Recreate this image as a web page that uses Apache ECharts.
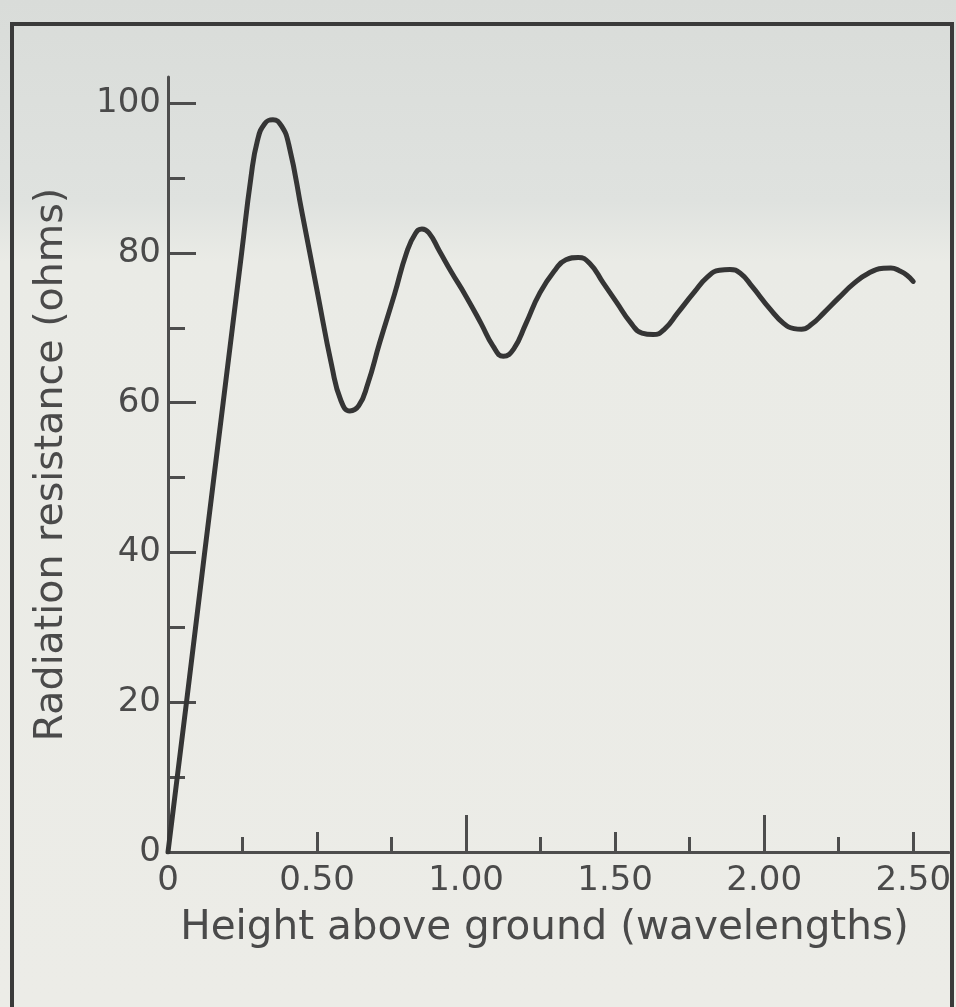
<!DOCTYPE html>
<html>
<head>
<meta charset="utf-8">
<script src="https://cdn.jsdelivr.net/npm/echarts@6/dist/echarts.min.js"></script>
<style>html,body{margin:0;padding:0;background:#e6e8e4;}#c{width:956px;height:1007px;}</style>
</head>
<body>
<div id="c"></div>
<script>
// Height above ground (wavelengths)
const heights = [0, 0.062, 0.123, 0.185, 0.247, 0.278, 0.30, 0.325, 0.352, 0.38, 0.405,
  0.45, 0.50, 0.55, 0.58, 0.61, 0.64, 0.67, 0.71, 0.76, 0.80, 0.83, 0.852, 0.875, 0.91,
  0.95, 1.00, 1.05, 1.09, 1.125, 1.16, 1.20, 1.248, 1.30, 1.335, 1.376, 1.415, 1.46, 1.505,
  1.55, 1.59, 1.628, 1.665, 1.71, 1.764, 1.81, 1.85, 1.885, 1.92, 1.96, 2.02, 2.065, 2.10,
  2.125, 2.16, 2.20, 2.25, 2.30, 2.35, 2.40, 2.425, 2.455, 2.48, 2.50];
// Radiation resistance (ohms)
const resistance = [0, 20, 40, 60, 80, 90, 95, 97.3, 97.8, 97, 94.5,
  85.3, 75, 64.8, 60.3, 58.9, 59.6, 62.5, 68, 74.5, 80, 82.6, 83.2, 82.7, 80.3,
  77.5, 74.2, 70.6, 67.6, 66.2, 67.2, 70.5, 74.7, 77.8, 79.1, 79.4, 78.6, 76, 73.4,
  70.8, 69.3, 69.1, 69.8, 72, 74.7, 76.8, 77.7, 77.8, 77.3, 75.5, 72.5, 70.6, 69.9,
  69.8, 70.5, 72.0, 74.0, 75.9, 77.3, 77.95, 78.0, 77.6, 77, 76.2];
const xLabelValues = [0, 0.5, 1, 1.5, 2, 2.5];
const xMinorTicks = [0.25, 0.75, 1.25, 1.75, 2.25];
const xHalfTicks = [0.5, 1.5, 2.5];
const xWholeTicks = [1, 2];
const yLabelValues = [0, 20, 40, 60, 80, 100];
const yMajorTicks = [20, 40, 60, 80, 100];
const yMinorTicks = [10, 30, 50, 70, 90];

const FONT = 'DejaVu Sans';
const TXT = '#4a4a4a';
const AX = '#4d4d4d';

const chart = echarts.init(document.getElementById('c'));
const baseX = {type: 'value', min: 0, max: 2.62, position: 'bottom', splitLine: {show: false}};
const baseY = {type: 'value', min: 0, max: 103.5, position: 'left', splitLine: {show: false}};
chart.setOption({
  animation: false,
  backgroundColor: {type: 'linear', x: 0, y: 0, x2: 0, y2: 1, colorStops: [
    {offset: 0, color: '#d9dcd9'}, {offset: 0.2, color: '#dfe2df'},
    {offset: 0.26, color: '#eaebe6'}, {offset: 1, color: '#ecece7'}]},
  graphic: [{type: 'rect', shape: {x: 12, y: 24, width: 940, height: 1000},
    style: {fill: 'none', stroke: '#3a3a3a', lineWidth: 4}, z: 0}],
  grid: {left: 168, right: 7, top: 77, bottom: 155},
  xAxis: [
    Object.assign({}, baseX, {
      name: 'Height above ground (wavelengths)', nameLocation: 'middle', nameGap: 56,
      nameTextStyle: {fontFamily: FONT, fontSize: 40.5, color: TXT, padding: [0, 28, 0, 0]},
      axisLine: {show: true, lineStyle: {color: AX, width: 3}},
      axisTick: {show: true, inside: true, length: 15, customValues: xMinorTicks, lineStyle: {color: AX, width: 3}},
      axisLabel: {show: true, customValues: xLabelValues, margin: 12, fontFamily: FONT, fontSize: 34, color: TXT,
        formatter: v => v === 0 ? '0' : v.toFixed(2)}
    }),
    Object.assign({}, baseX, {
      axisLine: {show: false},
      axisTick: {show: true, inside: true, length: 20, customValues: xHalfTicks, lineStyle: {color: AX, width: 3}},
      axisLabel: {show: false}
    }),
    Object.assign({}, baseX, {
      axisLine: {show: false},
      axisTick: {show: true, inside: true, length: 37, customValues: xWholeTicks, lineStyle: {color: AX, width: 3}},
      axisLabel: {show: false}
    })
  ],
  yAxis: [
    Object.assign({}, baseY, {
      name: 'Radiation resistance (ohms)', nameLocation: 'middle', nameGap: 96,
      nameTextStyle: {fontFamily: FONT, fontSize: 39.5, color: TXT},
      axisLine: {show: true, lineStyle: {color: AX, width: 3}},
      axisTick: {show: true, inside: true, length: 28, customValues: yMajorTicks, lineStyle: {color: AX, width: 3}},
      axisLabel: {show: true, customValues: yLabelValues, margin: 7, fontFamily: FONT, fontSize: 34, color: TXT}
    }),
    Object.assign({}, baseY, {
      axisLine: {show: false},
      axisTick: {show: true, inside: true, length: 17, customValues: yMinorTicks, lineStyle: {color: AX, width: 3}},
      axisLabel: {show: false}
    })
  ],
  series: [{
    type: 'line', xAxisIndex: 0, yAxisIndex: 0,
    data: heights.map((h, i) => [h, resistance[i]]),
    smooth: 0.5, showSymbol: false,
    lineStyle: {color: '#353535', width: 5, cap: 'round', join: 'round'}
  }]
});
</script>
</body>
</html>
